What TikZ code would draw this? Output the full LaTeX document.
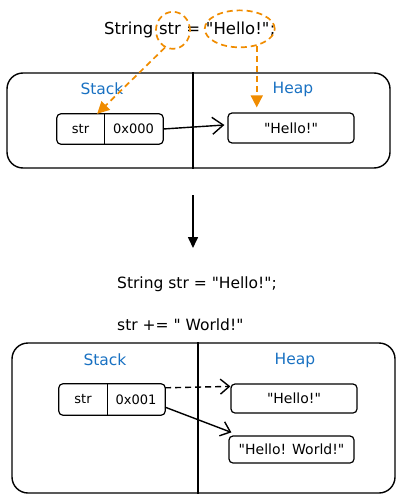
\documentclass[tikz,border=0pt]{standalone}
\usepackage{fontspec}
\setmainfont{DejaVu Sans}[Ligatures=TeXOff]
\usetikzlibrary{arrows.meta,shapes.geometric}
\definecolor{exblue}{HTML}{1971C2}
\definecolor{exorange}{HTML}{F08C00}
\begin{document}
\begin{tikzpicture}[x=1pt,y=-1pt,
  panel/.style={draw, line width=1.4pt, rounded corners=16pt, inner sep=0pt},
  part/.style={inner sep=0pt, font=\fontsize{13}{15}\selectfont},
  cellline/.style={line width=1.2pt},
  heapbox/.style={draw, line width=1.2pt, rounded corners=4pt, inner sep=0pt, font=\fontsize{14}{16}\selectfont},
  lbl/.style={text=exblue, font=\fontsize{15.5}{18}\selectfont},
  code/.style={font=\fontsize{15.5}{18}\selectfont, anchor=base west, inner sep=0pt},
  topw/.style={font=\fontsize{16.5}{19}\selectfont, anchor=base west, inner sep=0pt},
  oval/.style={ellipse, draw=exorange, line width=1.7pt, dash pattern=on 6pt off 4pt, inner sep=0pt},
  orarrow/.style={draw=exorange, line width=1.7pt, dash pattern=on 6pt off 4pt, -{Triangle[length=12pt,width=12pt,fill=exorange]}},
  ptr/.style={line width=1.4pt, -{Straight Barb[length=9pt,width=15pt]}},
]
\useasboundingbox (0,0) rectangle (400,500);

% top code line
\node[topw] (w1) at (104,35) {String};
\node[topw] (w2) at ([xshift=5.2pt]w1.base east) {str};
\node[topw] (w3) at ([xshift=5.2pt]w2.base east) {=};
\node[topw] (w4) at ([xshift=5.2pt]w3.base east) {"Hello!"};
\node[topw] (w5) at (w4.base east) {;};
\node[oval, minimum width=34pt, minimum height=37pt] (estr) at ([xshift=3pt,yshift=-1pt]w2.center) {};
\node[oval, minimum width=70pt, minimum height=37pt] (ehello) at ([xshift=2pt]w4.center) {};

% top panel
\node[panel, minimum width=383pt, minimum height=95pt] (top) at (198.5,120.5) {};
\draw[line width=1.4pt] (top.north -| 193,0) -- (top.south -| 193,0);
\node[lbl] (stack1) at (102,89) {Stack};
\node[lbl] (heaplbl1) at (293,89) {Heap};
\node[part, minimum width=47pt, minimum height=30pt] (strA) at (80.5,129) {str};
\node[part, minimum width=59pt, minimum height=30pt] (valA) at (133.5,129) {0x000};
\draw[cellline, rounded corners=4pt] (strA.north west) rectangle (valA.south east);
\draw[cellline] (strA.north east) -- (strA.south east);
\node[heapbox, minimum width=126pt, minimum height=30pt] (heap1) at (291,128) {"Hello!"};
\draw[ptr, -{Straight Barb[length=11pt,width=17pt]}] (valA.east) -- ([xshift=-3pt,yshift=3pt]heap1.west);

% orange pointers
\draw[orarrow] (estr.-115) -- ([xshift=-7pt]strA.north east);
\draw[orarrow, shorten >=5pt] (ehello.-45) -- (ehello.-45 |- heap1.north);

% down arrow
\coordinate (d1) at (193,195);
\coordinate (d2) at (193,248);
\draw[line width=1.6pt, -{Triangle[length=11pt,width=10pt]}] (d1) -- (d2);

% code lines
\node[code] (c1) at (117,288) {String str = "Hello!";};
\node[code] (c2) at (117,330) {str += " World!"};

% bottom panel
\node[panel, minimum width=383pt, minimum height=150pt] (bot) at (203.5,418) {};
\draw[line width=1.4pt] (bot.north -| 198,0) -- (bot.south -| 198,0);
\node[lbl] (stack2) at (105,360) {Stack};
\node[lbl] (heaplbl2) at (295,360) {Heap};
\node[part, minimum width=48pt, minimum height=31pt] (strB) at (83,399.5) {str};
\node[part, minimum width=58pt, minimum height=31pt] (valB) at (136,399.5) {0x001};
\draw[cellline, rounded corners=4pt] (strB.north west) rectangle (valB.south east);
\draw[cellline] (strB.north east) -- (strB.south east);
\node[heapbox, minimum width=126pt, minimum height=29pt] (heap2a) at (294,398.5) {"Hello!"};
\node[heapbox, minimum width=125pt, minimum height=27pt] (heap2b) at (291.5,449.5) {"Hello! World!"};
\draw[ptr, dash pattern=on 6pt off 4pt] ([yshift=-4pt]valB.north east) -- ([yshift=-3pt]heap2a.north west);
\draw[ptr] ([yshift=8pt]valB.south east) -- ([xshift=3pt,yshift=3pt]heap2b.north west);
\end{tikzpicture}
\end{document}
